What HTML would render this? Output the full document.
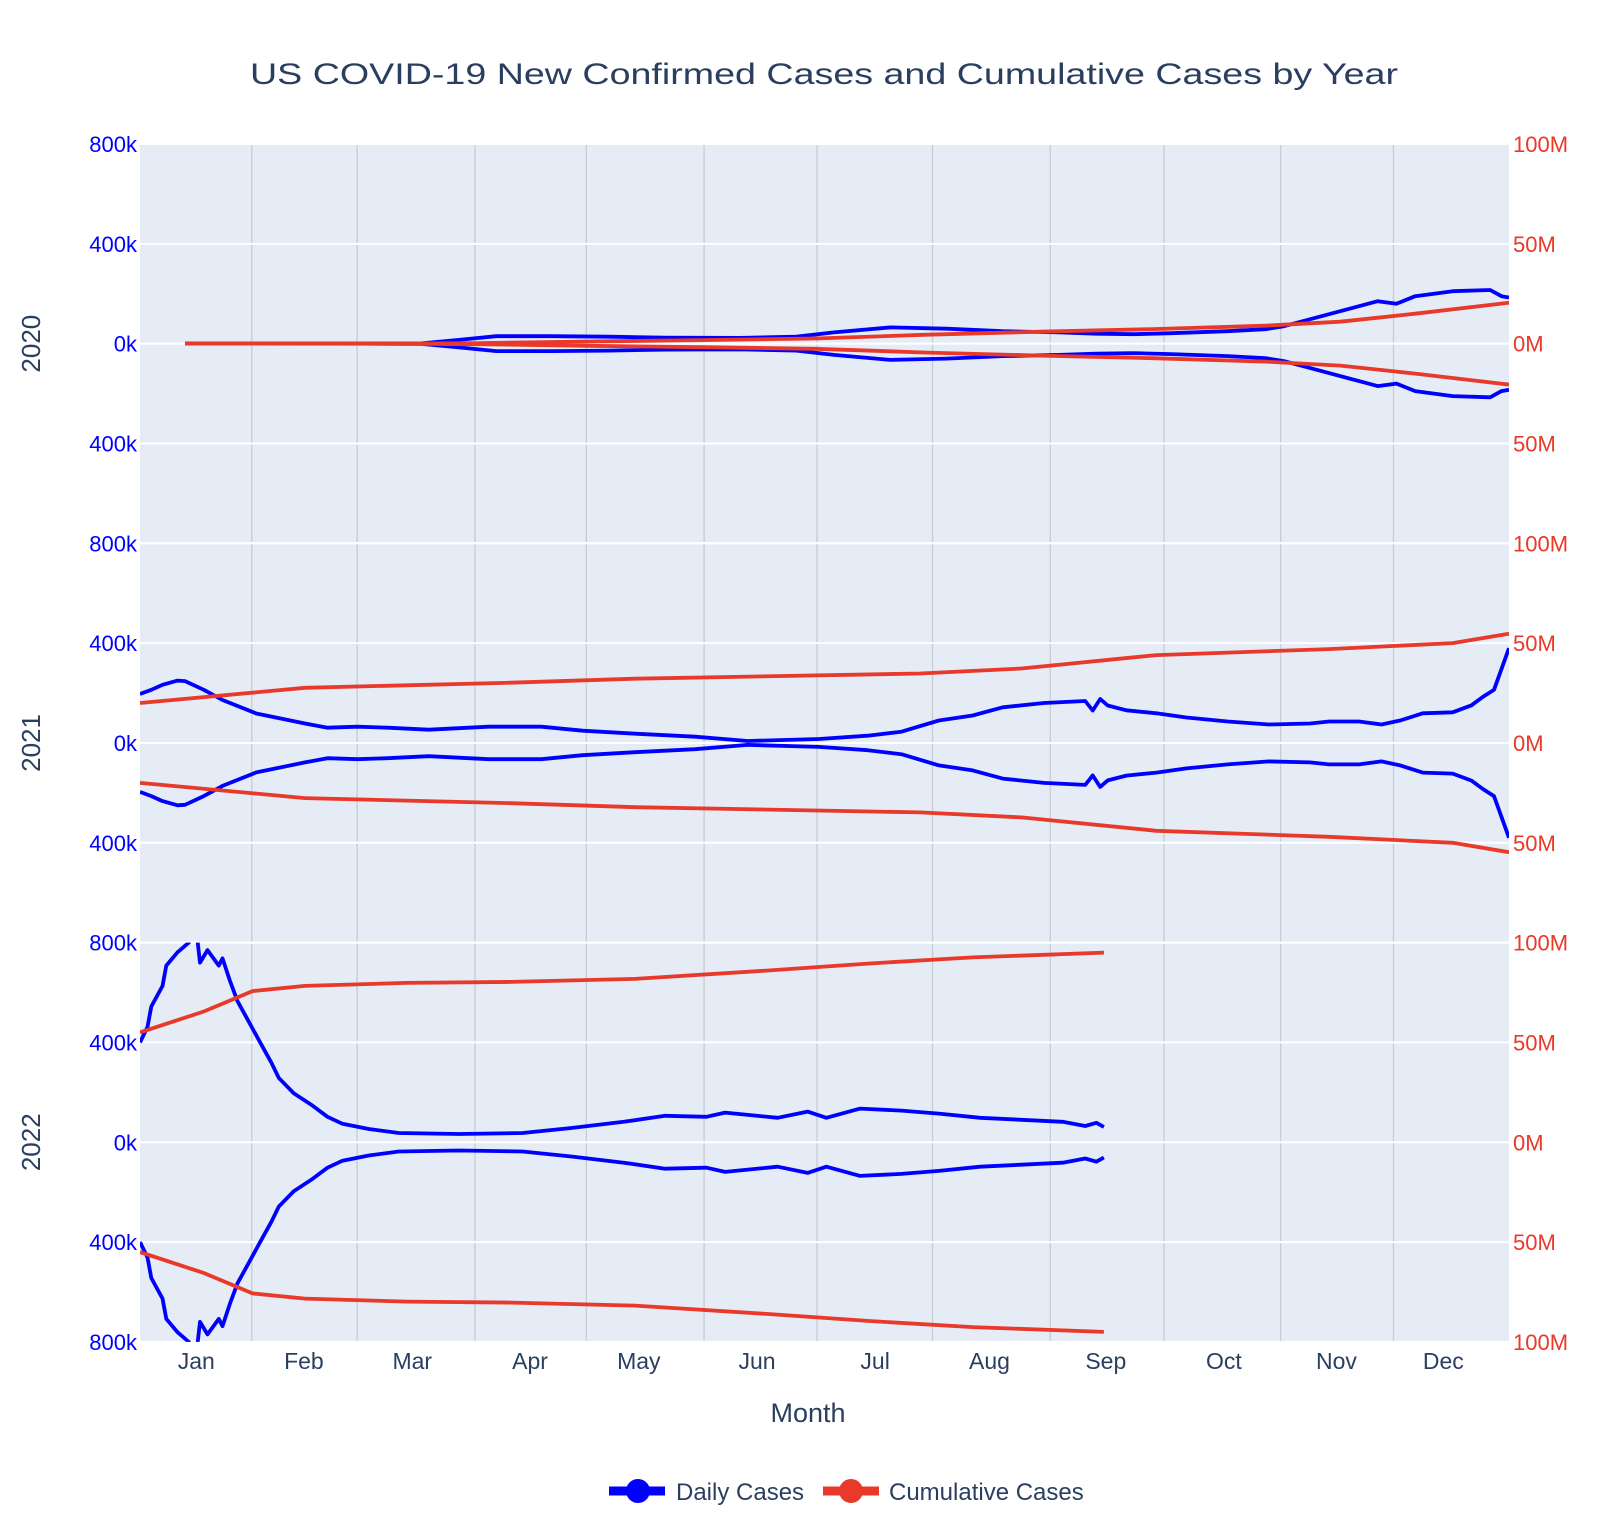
<!DOCTYPE html>
<html><head><meta charset="utf-8"><style>
body{margin:0;background:#fff;}
svg text{font-family:"Liberation Sans",sans-serif;}
</style></head><body>
<svg id="chart" width="1602" height="1520" xmlns="http://www.w3.org/2000/svg">
<rect width="1602" height="1520" fill="#fff"/>
<text x="824" y="84" font-size="30" fill="#2a3f5f" text-anchor="middle" textLength="1148" lengthAdjust="spacingAndGlyphs">US COVID-19 New Confirmed Cases and Cumulative Cases by Year</text>
<text x="808" y="1422" font-size="27" fill="#2a3f5f" text-anchor="middle">Month</text>
<g id="plot"></g>
<g>
<g>
<line x1="609" y1="1491" x2="665" y2="1491" stroke="#0000ff" stroke-width="9"/><circle cx="638" cy="1491" r="12" fill="#0000ff"/>
<text x="676" y="1500" font-size="24" fill="#2a3f5f">Daily Cases</text></g>
<g>
<line x1="823" y1="1491" x2="879" y2="1491" stroke="#e8392a" stroke-width="9"/><circle cx="851" cy="1491" r="12" fill="#e8392a"/>
<text x="889" y="1500" font-size="24" fill="#2a3f5f">Cumulative Cases</text></g>
</g>
</svg>
<script>
const years = ["2020","2021","2022"];
const monthLabels = ["Jan","Feb","Mar","Apr","May","Jun","Jul","Aug","Sep","Oct","Nov","Dec"];
const monthLabelDays = [15,43.7,72.6,104,133,164.5,196,226.5,257.5,289,319,347.5];
const monthGridDays = [29.8,57.9,89.3,119,150.4,180.5,211.3,242.7,273,304.1,334.2];
const leftTicks = ["800k","400k","0k","400k"];
const rightTicks = ["100M","50M","0M","50M"];
// 2020
const dailyDays2020 = [12,60,75,85,95,110,125,140,160,175,185,200,215,230,245,255,265,275,290,300,305,315,325,330,335,340,350,360,363,365];
const daily2020 = [0,0,1,15,30,30,28,24,23,28,45,65,60,50,45,40,38,42,50,58,70,110,150,170,160,190,210,215,190,185];
const cumDays2020 = [12,75,90,120,150,180,210,240,270,300,320,340,365];
const cum2020 = [0,0.1,0.3,1.1,1.8,2.6,4.5,6,7.3,9,11,15,20.5];
// 2021
const dailyDays2021 = [0,3,6,10,12,17,22,31,44,50,58,66,77,93,107,118,132,148,162,181,194,203,213,222,230,241,252,254,256,258,263,271,279,290,301,312,317,325,331,336,342,350,355,358,361,365];
const daily2021 = [196,213,233,250,248,213,172,118,78,61,65,61,53,65,65,49,37,25,8,16,29,45,90,110,143,160,168,130,176,150,131,119,102,86,74,78,86,86,74,90,119,123,151,184,213,380];
const cumDays2021 = [0,44,99,132,208,235,271,317,350,365];
const cum2021 = [20,27.6,30.2,32.2,34.8,37.3,44,47,50,54.7];
// 2022
const dailyDays2022 = [0,2,3,6,7,10,13,15,16,18,21,22,24,26,29,32,35,37,41,46,50,54,61,69,85,102,115,129,140,151,156,170,178,183,192,203,213,224,235,246,252,255,257];
const daily2022 = [400,462,544,626,708,761,800,850,720,770,708,737,646,565,483,401,319,258,196,147,102,74,53,37,33,37,57,82,106,102,119,98,123,98,135,127,115,98,90,82,65,78,61];
const cumDays2022 = [0,17,30,44,71,99,132,167,194,222,257];
const cum2022 = [55,65.5,75.7,78.3,79.8,80.3,81.8,86,89.5,92.6,95];

const seriesDays = [[dailyDays2020,cumDays2020],[dailyDays2021,cumDays2021],[dailyDays2022,cumDays2022]];
const seriesVals = [[daily2020,cum2020],[daily2021,cum2021],[daily2022,cum2022]];

const NS="http://www.w3.org/2000/svg";
const X0=140, X1=1509, TOP=144, H=399.3;
const xs = d => X0 + d*(X1-X0)/365;
const yL = (i,v) => TOP + i*H + H/2 - v*(H/2)/800;
const yR = (i,v) => TOP + i*H + H/2 - v*(H/2)/100;
const plot=document.getElementById('plot');
function mk(tag,attrs,parent){const e=document.createElementNS(NS,tag);for(const k in attrs)e.setAttribute(k,attrs[k]);(parent||plot).appendChild(e);return e;}

const bg=mk('rect',{x:X0,y:TOP,width:X1-X0,height:3*H,fill:'#e5ecf6'});


const defs=mk('defs',{});
years.forEach((y,i)=>{const cp=mk('clipPath',{id:'clip'+i},defs);mk('rect',{x:X0,y:TOP+i*H,width:X1-X0,height:H},cp);});

monthGridDays.forEach(d=>{
  const l=mk('line',{x1:xs(d),x2:xs(d),y1:TOP,y2:TOP+3*H,stroke:'#c8ccd2','stroke-width':1.3});
  
  
});
for(let i=0;i<3;i++){
  for(let j=0;j<=4;j++){
    const yy=TOP+i*H+j*H/4;
    const g=mk('line',{x1:X0,x2:X1,y1:yy,y2:yy,stroke:'#fff','stroke-width':2});
    
    
  }
  leftTicks.forEach((t,j)=>{
    const tx=mk('text',{x:X0-3,y:TOP+i*H+j*H/4+8,'font-size':22,fill:'#0000ff','text-anchor':'end'});
    tx.textContent=t;
    
    
  });
  rightTicks.forEach((t,j)=>{
    const tx=mk('text',{x:X1+4,y:TOP+i*H+j*H/4+8,'font-size':22,fill:'#e8392a'});
    tx.textContent=t;
    
    
  });
  const cy=TOP+i*H+H/2;
  const yl=mk('text',{x:40,y:cy,'font-size':26,fill:'#2a3f5f','text-anchor':'middle',transform:`rotate(-90 40 ${cy})`});
  yl.textContent=years[i];
  
  
}
const lt=mk('text',{x:X0-3,y:TOP+3*H+8,'font-size':22,fill:'#0000ff','text-anchor':'end'});
lt.textContent="800k";


const rt=mk('text',{x:X1+4,y:TOP+3*H+8,'font-size':22,fill:'#e8392a'});
rt.textContent="100M";


monthLabels.forEach((m,k)=>{
  const tx=mk('text',{x:xs(monthLabelDays[k]),y:1369,'font-size':23,fill:'#2a3f5f','text-anchor':'middle'});
  tx.textContent=m;
  
  
});

function pts(days,vals,fy,i,sign){return days.map((d,k)=>xs(d).toFixed(1)+','+(fy(i,sign*vals[k])).toFixed(1)).join(' ');}
years.forEach((yr,i)=>{
  const g=mk('g',{'clip-path':`url(#clip${i})`});
  
  
  const [dd,cd]=seriesDays[i], [dv,cv]=seriesVals[i];
  [1,-1].forEach(s=>{
    const p=mk('polyline',{points:pts(dd,dv,yL,i,s),fill:'none',stroke:'#0000ff','stroke-width':3.8,'stroke-linejoin':'round'},g);
    
    
  });
  [1,-1].forEach(s=>{
    const p=mk('polyline',{points:pts(cd,cv,yR,i,s),fill:'none',stroke:'#e8392a','stroke-width':3.8,'stroke-linejoin':'round'},g);
    
    
  });
});
</script>
</body></html>
